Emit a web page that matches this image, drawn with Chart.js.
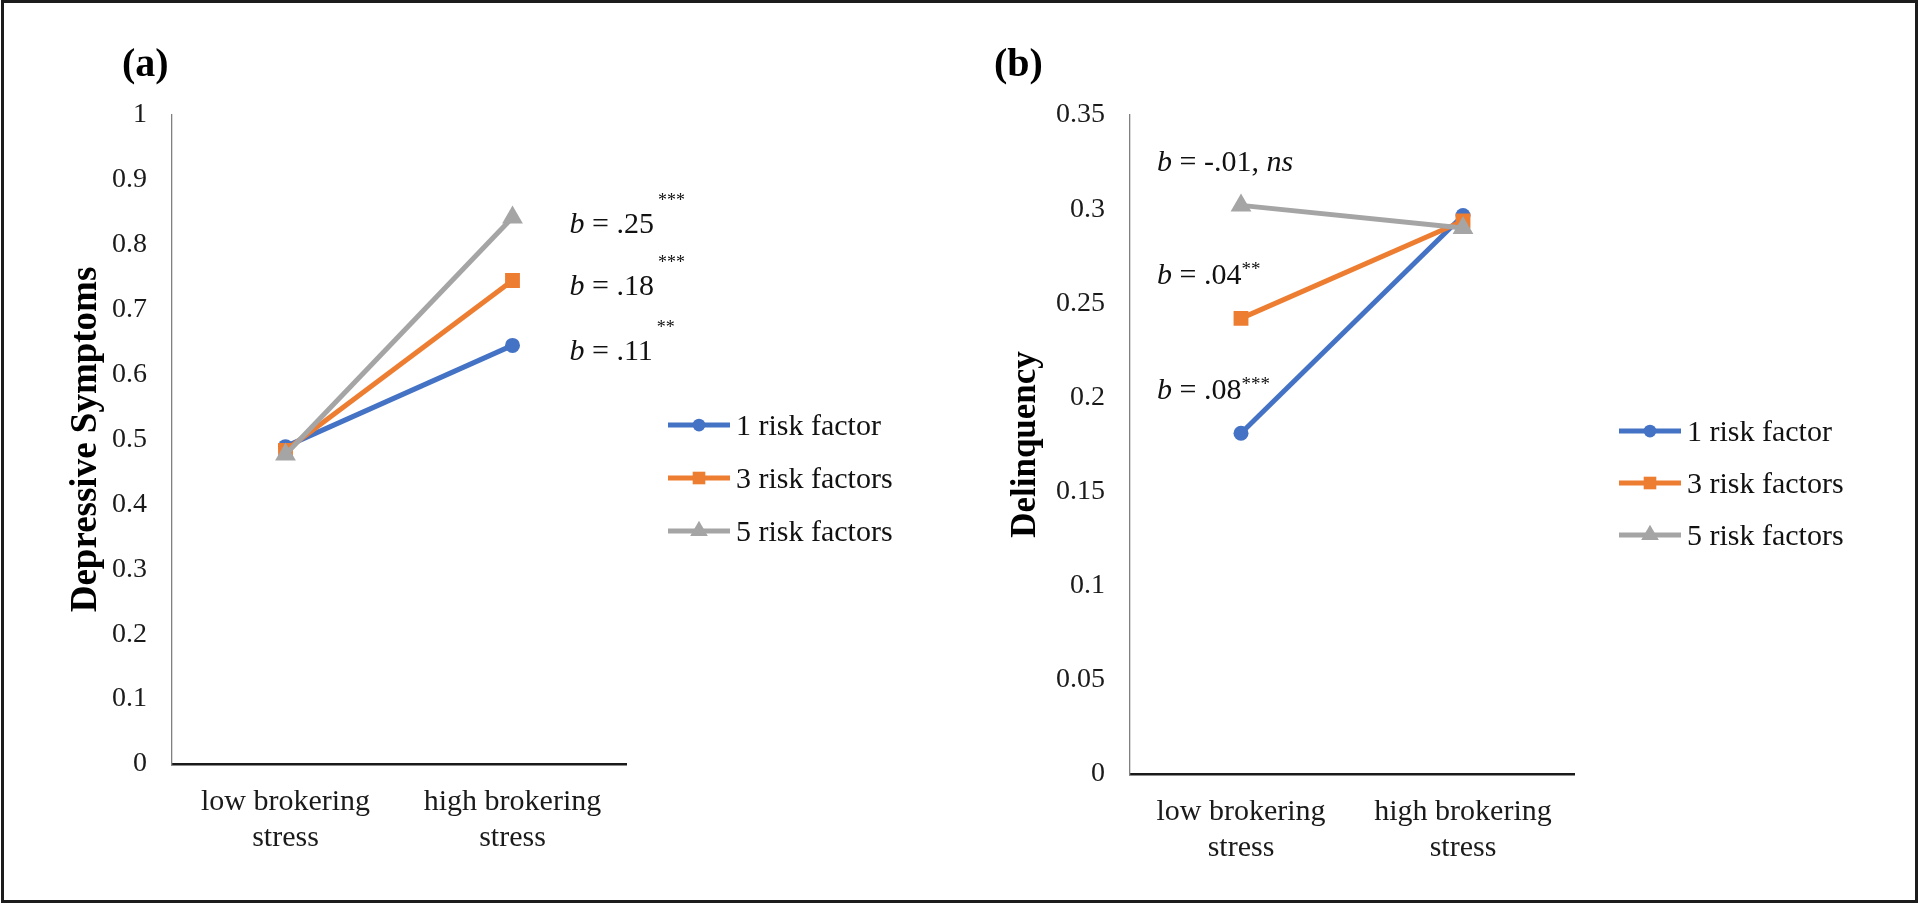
<!DOCTYPE html>
<html>
<head>
<meta charset="utf-8">
<title>Brokering stress × risk factors</title>
<script src="https://cdn.jsdelivr.net/npm/chart.js@4.4.1/dist/chart.umd.min.js"></script>
<style>
  html, body { margin: 0; padding: 0; background: #fff; }
  #page { position: relative; width: 1920px; height: 906px; overflow: hidden; background: #fff; }
  .panel { position: absolute; top: 0; }
  #frame { position: absolute; left: 1px; top: 0; width: 1911px; height: 897px;
           border: 3px solid #1c1c1c; pointer-events: none; }
</style>
</head>
<body>
<div id="page">
  <canvas id="chartA" class="panel" style="left:0" width="960" height="906"></canvas>
  <canvas id="chartB" class="panel" style="left:960px" width="960" height="906"></canvas>
  <div id="frame"></div>
</div>
<script>
'use strict';

const FONT = "'Liberation Serif', 'Times New Roman', serif";

/* ── Data ───────────────────────────────────────────────────────── */
const categories = [['low brokering', 'stress'], ['high brokering', 'stress']];
const seriesNames = ['1 risk factor', '3 risk factors', '5 risk factors'];
const seriesColors = ['#4472C4', '#ED7D31', '#A5A5A5'];
const seriesMarkers = ['circle', 'rect', 'triangle'];
const markerRadius = [7.5, 10.5, 12];

// (a) depressive symptoms
const depressive1 = [0.489, 0.645];
const depressive3 = [0.483, 0.745];
const depressive5 = [0.477, 0.842];
const ticksA = [0, 0.1, 0.2, 0.3, 0.4, 0.5, 0.6, 0.7, 0.8, 0.9, 1];
const slopesA = ['.11', '.18', '.25'];
const starsA = ['**', '***', '***'];

// (b) delinquency
const delinquency1 = [0.181, 0.2966];
const delinquency3 = [0.242, 0.2937];
const delinquency5 = [0.302, 0.290];
const ticksB = [0, 0.05, 0.1, 0.15, 0.2, 0.25, 0.3, 0.35];
const slopesB = ['.08', '.04', '-.01'];
const starsB = ['***', '**', 'ns'];

/* ── Plugins ────────────────────────────────────────────────────── */
// Excel-style legend: a short line with the marker on it
const lineLegend = {
    id: 'lineLegend',
    afterDraw(chart, args, opts) {
        const ctx = chart.ctx;
        ctx.save();
        chart.data.datasets.forEach((ds, i) => {
            const y = opts.top + i * opts.gap;
            ctx.strokeStyle = ds.borderColor;
            ctx.lineWidth = 5;
            ctx.beginPath();
            ctx.moveTo(opts.left, y);
            ctx.lineTo(opts.left + opts.lineLen, y);
            ctx.stroke();
            ctx.fillStyle = ds.backgroundColor;
            Chart.helpers.drawPoint(ctx, {
                pointStyle: ds.pointStyle, radius: ds.pointRadius * 0.85, rotation: 0, borderWidth: 0
            }, opts.left + opts.lineLen / 2, y);
            ctx.fillStyle = '#111';
            ctx.font = `30px ${FONT}`;
            ctx.textAlign = 'left';
            ctx.textBaseline = 'middle';
            ctx.fillText(ds.label, opts.left + opts.lineLen + 6, y + 2);
        });
        ctx.restore();
    }
};

// "b = .25***" slope notes, anchored to one end of each line
const slopeLabels = {
    id: 'slopeLabels',
    afterDraw(chart, args, opts) {
        const ctx = chart.ctx;
        ctx.save();
        ctx.fillStyle = '#111';
        ctx.textAlign = 'left';
        ctx.textBaseline = 'alphabetic';
        chart.data.datasets.forEach((ds, i) => {
            const pt = chart.getDatasetMeta(i).data[opts.index];
            let x = opts.fixedX != null ? chart.chartArea.left + opts.fixedX : pt.x + opts.dx;
            const y = pt.y + opts.dy;

            ctx.font = `italic 30px ${FONT}`;
            ctx.fillText('b', x, y);
            x += ctx.measureText('b').width;
            ctx.font = `30px ${FONT}`;
            const body = ' = ' + opts.slopes[i];
            ctx.fillText(body, x, y);
            x += ctx.measureText(body).width;

            const sig = opts.stars[i];
            if (sig === 'ns') {
                ctx.fillText(', ', x, y);
                x += ctx.measureText(', ').width;
                ctx.font = `italic 30px ${FONT}`;
                ctx.fillText('ns', x, y);
            } else {
                ctx.font = `${opts.starSize}px ${FONT}`;
                ctx.fillText(sig, x + opts.starGap, y - opts.starRaise);
            }
        });
        ctx.restore();
    }
};

const panelTitle = {
    id: 'panelTitle',
    afterDraw(chart, args, opts) {
        const ctx = chart.ctx;
        ctx.save();
        ctx.fillStyle = '#000';
        ctx.font = `bold 40px ${FONT}`;
        ctx.textAlign = 'left';
        ctx.textBaseline = 'alphabetic';
        ctx.fillText(opts.text, opts.x, opts.y);
        ctx.restore();
    }
};

/* ── Builders ───────────────────────────────────────────────────── */
function makeDatasets(values) {
    return values.map((data, i) => ({
        label: seriesNames[i],
        data,
        borderColor: seriesColors[i],
        backgroundColor: seriesColors[i],
        borderWidth: 5,
        pointStyle: seriesMarkers[i],
        pointRadius: markerRadius[i],
        pointHoverRadius: markerRadius[i],
        pointBorderWidth: 0,
        tension: 0,
        order: 3 - i   // 5 risk factors drawn on top
    }));
}

function makeOptions(cfg) {
    return {
        responsive: false,
        animation: false,
        devicePixelRatio: 1,
        layout: { padding: { left: 0, top: cfg.top, right: 960 - cfg.right, bottom: 0 } },
        plugins: {
            legend: { display: false },
            tooltip: { enabled: false },
            lineLegend: cfg.legend,
            slopeLabels: cfg.notes,
            panelTitle: cfg.title
        },
        scales: {
            x: {
                type: 'category',
                offset: true,
                grid: { display: true, drawOnChartArea: false, drawTicks: false },
                border: { display: true, color: '#1a1a1a', width: 2.5 },
                ticks: {
                    color: '#1a1a1a',
                    font: { family: FONT, size: 30, lineHeight: 1.2 },
                    padding: 20, maxRotation: 0, autoSkip: false
                },
                afterFit: s => { s.height = 906 - cfg.bottom; }
            },
            y: {
                min: 0,
                max: cfg.max,
                grid: { display: true, drawOnChartArea: false, drawTicks: false },
                border: { display: true, color: '#808080', width: 1.3 },
                afterBuildTicks: s => { s.ticks = cfg.ticks.map(v => ({ value: v })); },
                ticks: {
                    color: '#1a1a1a',
                    font: { family: FONT, size: 28 },
                    padding: 25,
                    callback: v => String(+Number(v).toFixed(2))
                },
                title: {
                    display: true,
                    text: cfg.yTitle,
                    color: '#000',
                    font: { family: FONT, size: cfg.titleSize, weight: 'bold' },
                    padding: { top: cfg.titlePad, bottom: 0 }
                },
                afterFit: s => { s.width = cfg.left; }
            }
        }
    };
}

/* ── Charts ─────────────────────────────────────────────────────── */
new Chart(document.getElementById('chartA'), {
    type: 'line',
    data: { labels: categories, datasets: makeDatasets([depressive1, depressive3, depressive5]) },
    options: makeOptions({
        left: 172, right: 626, top: 115, bottom: 764, max: 1, ticks: ticksA,
        yTitle: 'Depressive Symptoms', titleSize: 37, titlePad: 64,
        legend: { left: 668, lineLen: 62, top: 425, gap: 53 },
        notes: { index: 1, dx: 57, dy: 15, slopes: slopesA, stars: starsA, starSize: 18, starRaise: 27, starGap: 4 },
        title: { text: '(a)', x: 122, y: 76 }
    }),
    plugins: [lineLegend, slopeLabels, panelTitle]
});

new Chart(document.getElementById('chartB'), {
    type: 'line',
    data: { labels: categories, datasets: makeDatasets([delinquency1, delinquency3, delinquency5]) },
    options: makeOptions({
        left: 170, right: 614, top: 115, bottom: 774, max: 0.35, ticks: ticksB,
        yTitle: 'Delinquency', titleSize: 35, titlePad: 45,
        legend: { left: 659, lineLen: 62, top: 431, gap: 52 },
        notes: { index: 0, fixedX: 27, dy: -34, slopes: slopesB, stars: starsB, starSize: 19, starRaise: 9, starGap: 0 },
        title: { text: '(b)', x: 34, y: 76 }
    }),
    plugins: [lineLegend, slopeLabels, panelTitle]
});
</script>
</body>
</html>
